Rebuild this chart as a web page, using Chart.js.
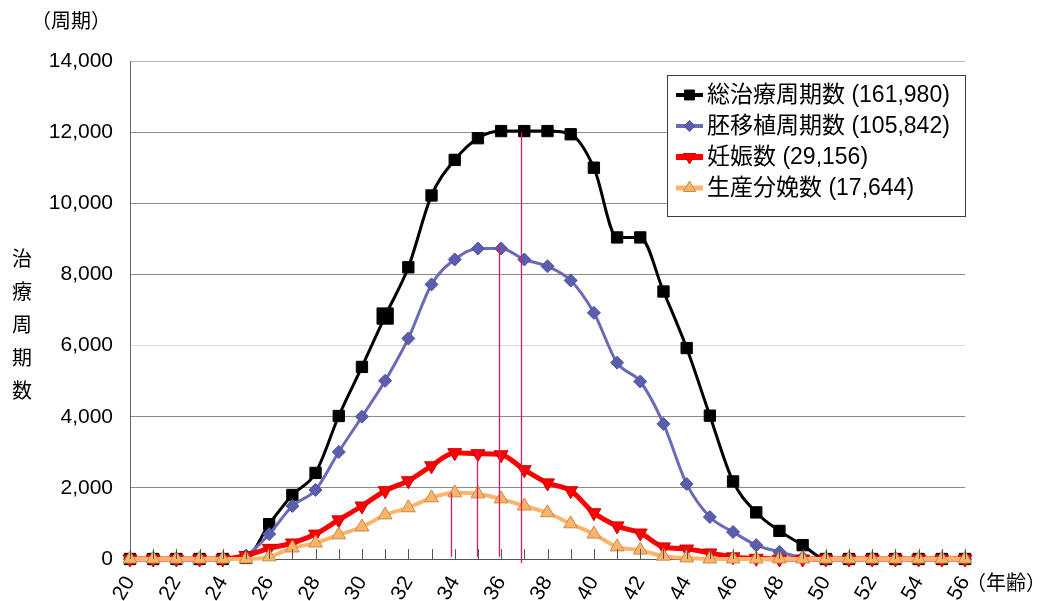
<!DOCTYPE html>
<html>
<head>
<meta charset="utf-8">
<title>年齢別 治療周期数</title>
<script src="https://cdn.jsdelivr.net/npm/chart.js@4/dist/chart.umd.min.js"></script>
<style>
  html, body { margin: 0; padding: 0; background: #ffffff; }
  #wrap { position: relative; width: 1042px; height: 601px; }
</style>
</head>
<body>
<div id="wrap"><canvas id="chart"></canvas></div>
<script>
// Ages (years) on the horizontal axis
const ageLabels = ['20','21','22','23','24','25','26','27','28','29','30','31','32','33','34','35','36','37','38',
                   '39','40','41','42','43','44','45','46','47','48','49','50','51','52','53','54','55','56'];

// Cycles / counts per age
const totalCycles    = [0,0,0,0,0,30,980,1800,2420,4020,5400,6830,8200,10220,11220,11830,12030,12030,12030,
                        11940,11000,9040,9040,7520,5930,4030,2180,1310,790,390,0,0,0,0,0,0,0];
const transferCycles = [0,0,0,0,0,100,700,1490,1940,3010,4000,5010,6200,7720,8420,8730,8730,8420,8230,
                        7830,6920,5520,4990,3800,2110,1180,760,390,200,40,0,0,0,0,0,0,0];
const pregnancies    = [0,0,0,0,0,100,300,450,700,1100,1490,1920,2200,2620,2990,2960,2930,2510,2140,
                        1920,1300,930,730,340,280,170,60,20,0,0,0,0,0,0,0,0,0];
const liveBirths     = [0,0,0,0,0,0,60,310,450,680,900,1240,1440,1720,1860,1830,1690,1490,1300,
                        990,700,340,250,80,30,0,0,0,0,0,0,0,0,0,0,0,0];

const seriesNames = ['総治療周期数 (161,980)', '胚移植周期数 (105,842)', '妊娠数 (29,156)', '生産分娩数 (17,644)'];

// Mean age of each series, marked with a vertical line up to the curve
const meanAges      = [36.87, 35.93, 34.94, 33.85];
const meanTopValues = [11990, 8880, 3030, 1865];
const meanLowValues = [-110, 60, 60, 60];

// Value axis
const yMax = 14000;
const yStep = 2000;

const yAxisTitle = '治療周期数';
const yUnitLabel = '（周期）';
const xUnitLabel = '（年齢）';

const latinFont = "'Liberation Sans', Arial, 'Noto Sans CJK JP', sans-serif";
const cjkFont = "'Noto Sans CJK JP', 'Liberation Sans', sans-serif";

const seriesStyles = [
  { line: '#000000', fill: '#000000', edge: '#000000', style: 'rect', rot: 0, r: 8, w: 3 },
  { line: '#6A6AB6', fill: '#5B5EAC', edge: '#4E519C', style: 'rectRot', r: 6.5, rot: 0, w: 3 },
  { line: '#FF0000', fill: '#FF0000', edge: '#C80000', style: 'triangle', r: 8, rot: 180, w: 5 },
  { line: '#FDB56C', fill: '#FBB469', edge: '#C58A50', style: 'triangle', r: 8, rot: 0, w: 4 }
];

function makeDataset(i, values, order) {
  const s = seriesStyles[i];
  return {
    label: seriesNames[i],
    data: values,
    order: order,
    borderColor: s.line,
    borderWidth: s.w,
    backgroundColor: s.fill,
    pointBackgroundColor: s.fill,
    pointBorderColor: s.edge,
    pointBorderWidth: 1,
    pointStyle: s.style,
    pointRotation: s.rot,
    pointRadius: s.r,
    pointHoverRadius: s.r,
    cubicInterpolationMode: 'monotone',
    clip: false
  };
}

const datasets = [
  makeDataset(0, totalCycles, 4),
  makeDataset(1, transferCycles, 3),
  makeDataset(2, pregnancies, 2),
  makeDataset(3, liveBirths, 1)
];
// the 31-year marker of the total series is drawn larger
datasets[0].pointRadius = ctx => (ctx.dataIndex === 11 ? 11.5 : 8);

function drawMarker(ctx, s, x, y) {
  ctx.save();
  ctx.fillStyle = s.fill;
  ctx.strokeStyle = s.edge;
  ctx.lineWidth = 1;
  if (Chart.helpers && Chart.helpers.drawPoint) {
    Chart.helpers.drawPoint(ctx, { pointStyle: s.style, radius: s.r - 1, rotation: s.rot, borderWidth: 1 }, x, y);
  }
  ctx.restore();
}

const decorations = {
  id: 'decorations',
  afterDatasetsDraw(chart) {
    const ctx = chart.ctx;
    const xs = chart.scales.x;
    const ys = chart.scales.y;
    const first = Number(ageLabels[0]);
    ctx.save();
    ctx.strokeStyle = '#E5175F';
    ctx.lineWidth = 1.3;
    meanAges.forEach((age, i) => {
      const px = Math.round(xs.getPixelForValue(age - first)) + 0.5;
      ctx.beginPath();
      ctx.moveTo(px, ys.getPixelForValue(meanTopValues[i]));
      ctx.lineTo(px, ys.getPixelForValue(meanLowValues[i]));
      ctx.stroke();
    });
    ctx.restore();
  },
  afterDraw(chart) {
    const ctx = chart.ctx;
    const xs = chart.scales.x;
    const area = chart.chartArea;

    // inward tick marks on the age axis
    ctx.save();
    ctx.strokeStyle = '#555555';
    ctx.lineWidth = 1;
    xs.ticks.forEach((t, i) => {
      const px = Math.round(xs.getPixelForTick(i)) + 0.5;
      ctx.beginPath();
      ctx.moveTo(px, area.bottom);
      ctx.lineTo(px, area.bottom - 10);
      ctx.stroke();
    });
    ctx.restore();

    // unit labels and vertical axis title
    ctx.save();
    ctx.fillStyle = '#000000';
    ctx.textBaseline = 'middle';
    ctx.font = "20px " + cjkFont;
    ctx.textAlign = 'left';
    ctx.fillText(yUnitLabel, 31, 20);
    ctx.fillText(xUnitLabel, 966, 582);
    ctx.textAlign = 'center';
    Array.from(yAxisTitle).forEach((ch, i) => {
      ctx.fillText(ch, 22, 258 + i * 33);
    });
    ctx.restore();

    // legend box
    const box = { left: 667, top: 75, right: 965, bottom: 216 };
    ctx.save();
    ctx.fillStyle = '#ffffff';
    ctx.fillRect(box.left, box.top, box.right - box.left, box.bottom - box.top);
    ctx.strokeStyle = '#3c3c3c';
    ctx.lineWidth = 1;
    ctx.strokeRect(box.left + 0.5, box.top + 0.5, box.right - box.left, box.bottom - box.top);
    ctx.font = "23px " + latinFont;
    ctx.textBaseline = 'middle';
    ctx.textAlign = 'left';
    chart.data.datasets.forEach((ds, i) => {
      const s = seriesStyles[i];
      const cy = 95 + i * 31;
      ctx.strokeStyle = s.line;
      ctx.lineWidth = s.w + 1;
      ctx.beginPath();
      ctx.moveTo(676, cy);
      ctx.lineTo(703, cy);
      ctx.stroke();
      drawMarker(ctx, s, 689.5, cy);
      ctx.fillStyle = '#000000';
      ctx.fillText(ds.label, 707, cy + 1);
    });
    ctx.restore();
  }
};

new Chart(document.getElementById('chart'), {
  type: 'line',
  data: { labels: ageLabels, datasets: datasets },
  options: {
    responsive: true,
    maintainAspectRatio: false,
    animation: false,
    events: [],
    layout: { padding: { top: 61, right: 77, left: 0, bottom: 0 } },
    plugins: {
      legend: { display: false },
      tooltip: { enabled: false },
      title: { display: false }
    },
    scales: {
      x: {
        type: 'category',
        offset: false,
        grid: { display: false },
        border: { display: true, color: '#555555', width: 1 },
        ticks: {
          autoSkip: false,
          maxRotation: 60,
          minRotation: 60,
          padding: 5,
          color: '#000000',
          font: { family: latinFont, size: 21 },
          callback: function (val, idx) {
            const a = Number(ageLabels[idx]);
            return a % 2 === 0 ? ageLabels[idx] : '';
          }
        },
        afterFit: scale => { scale.height = 42; }
      },
      y: {
        min: 0,
        max: yMax,
        grid: {
          drawTicks: false,
          tickLength: 0,
          lineWidth: 1,
          color: ctx => {
            const v = ctx.tick ? ctx.tick.value : 0;
            if (v === 6000) return '#dadada';
            if (v === yMax) return '#b4b4b4';
            if (v === 0) return '#555555';
            return '#8a8a8a';
          }
        },
        border: { display: true, color: '#666666', width: 1 },
        ticks: {
          stepSize: yStep,
          padding: 17,
          color: '#000000',
          font: { family: latinFont, size: 21 },
          callback: v => v.toLocaleString('en-US')
        },
        afterFit: scale => { scale.width = 130; }
      }
    }
  },
  plugins: [decorations]
});
</script>
</body>
</html>
